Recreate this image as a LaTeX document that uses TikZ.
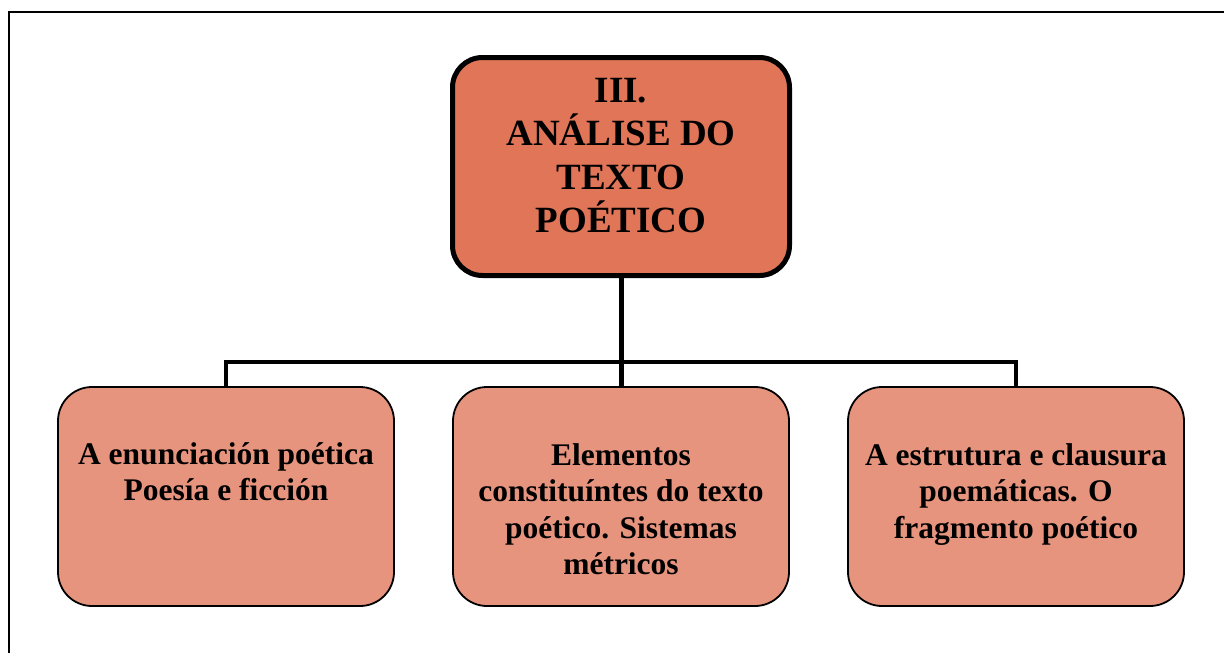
\documentclass[tikz,border=0pt]{standalone}
\usepackage{fontspec}
\setmainfont{Liberation Serif}
\usetikzlibrary{calc,positioning}
\definecolor{headfill}{RGB}{224,117,88}
\definecolor{itemfill}{RGB}{230,148,126}
\tikzset{
    headbox/.style={draw, line width=5pt, fill=headfill, rounded corners=30pt, minimum width=337pt, minimum height=218pt},
    itembox/.style={draw, line width=1.8pt, fill=itemfill, rounded corners=34pt, minimum width=336pt, minimum height=219pt},
    headtext/.style={align=center, inner sep=0pt, anchor=north, font=\bfseries\fontsize{37}{43.5}\selectfont},
    itemtext/.style={align=center, inner sep=0pt, anchor=north, font=\bfseries\fontsize{31.5}{36.5}\selectfont},
    link/.style={line width=5pt},
}
\begin{document}
\begin{tikzpicture}[x=1pt,y=-1pt]
    \useasboundingbox (0,0) rectangle (1224,653);
    \draw[line width=2.5pt] (1224,12) -- (9,12) -- (9,653);
    \node[headbox] (head) at (621,166.5) {};
    \node[itembox] (enun) at (226,496.5) {};
    \node[itembox] (elem) at (621,496.5) {};
    \node[itembox] (estr) at (1016,496.5) {};
    \node[headtext] (headtxt) at ($(head.north)+(0,23)$) {III.\\ANÁLISE DO\\TEXTO\\POÉTICO};
    \node[itemtext] (enuntxt) at ($(enun.north)+(0,56)$) {A enunciación poética\\Poesía e ficción};
    \node[itemtext] (elemtxt) at ($(elem.north)+(0,57)$) {Elementos\\constituíntes do texto\\poético. Sistemas\\métricos};
    \node[itemtext] (estrtxt) at ($(estr.north)+(0,57)$) {A estrutura e clausura\\poemáticas. O\\fragmento poético};
    \coordinate (fork) at (621,362);
    \draw[link] (head.south) -- (elem.north);
    \draw[link, line width=4pt] (enun.north) -- (enun.north |- fork) -- (estr.north |- fork) -- (estr.north);
\end{tikzpicture}
\end{document}
